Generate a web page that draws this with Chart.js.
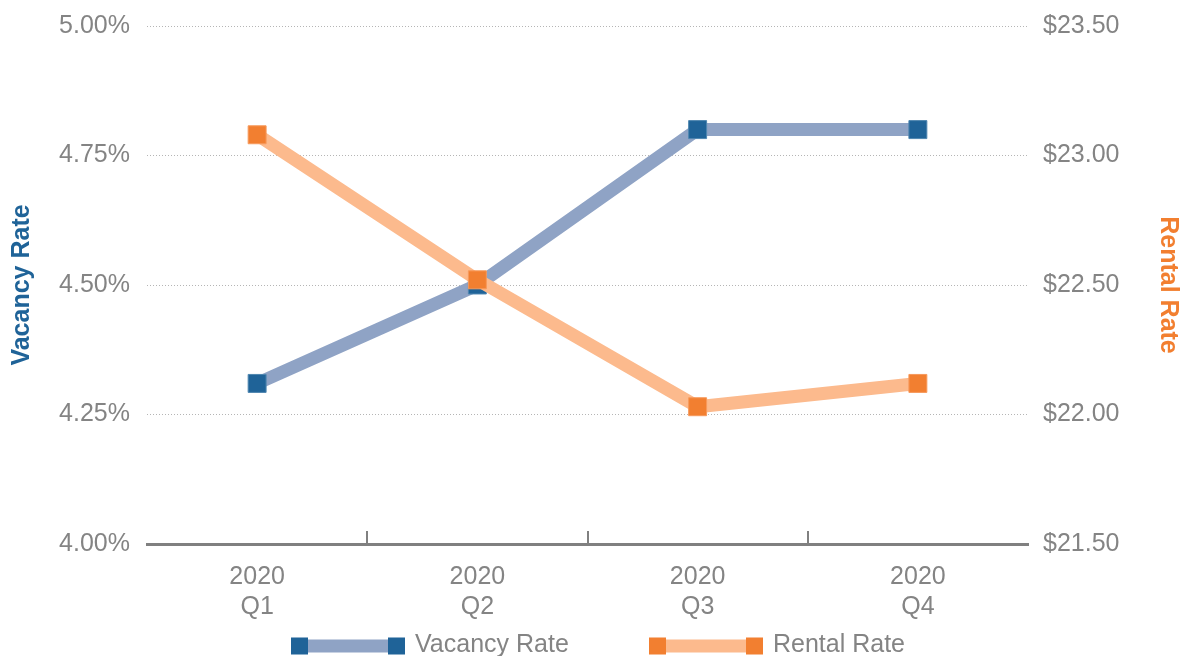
<!DOCTYPE html>
<html>
<head>
<meta charset="utf-8">
<script src="https://cdn.jsdelivr.net/npm/chart.js@4"></script>
<style>
  html, body { margin: 0; padding: 0; background: #fff; }
  #wrap { width: 1185px; height: 656px; }
</style>
</head>
<body>
<div id="wrap"><canvas id="c" width="1185" height="656"></canvas></div>
<script>
// data
const quarters = [['2020', 'Q1'], ['2020', 'Q2'], ['2020', 'Q3'], ['2020', 'Q4']];
const vacancyRate = [4.31, 4.50, 4.80, 4.80];
const rentalRate = [23.08, 22.52, 22.03, 22.12];
const vacancyRange = [4.00, 5.00];
const rentalRange = [21.50, 23.50];

const FONT = '"Liberation Sans", Arial, sans-serif';
const GREY = '#848484';

// inner tick marks between categories, like the original
const innerTicks = {
  id: 'innerTicks',
  afterDraw(chart) {
    const x = chart.scales.x;
    const ctx = chart.ctx;
    ctx.save();
    ctx.strokeStyle = '#808080';
    ctx.lineWidth = 2;
    for (let i = 1; i < quarters.length; i++) {
      const px = Math.round((x.getPixelForValue(i - 1) + x.getPixelForValue(i)) / 2);
      ctx.beginPath();
      ctx.moveTo(px, x.top - 13);
      ctx.lineTo(px, x.top);
      ctx.stroke();
    }
    ctx.restore();
  }
};

// legend with a line and a square at each end
const lineLegend = {
  id: 'lineLegend',
  afterDraw(chart) {
    const ctx = chart.ctx;
    const starts = [291, 649];
    const y = 646;
    ctx.save();
    ctx.font = '25px ' + FONT;
    ctx.textBaseline = 'middle';
    chart.data.datasets.forEach((ds, i) => {
      const x0 = starts[i];
      ctx.fillStyle = ds.borderColor;
      ctx.fillRect(x0 + 8, y - 6.5, 98, 13);
      ctx.fillStyle = ds.pointBackgroundColor;
      ctx.fillRect(x0, y - 8.5, 17, 17);
      ctx.fillRect(x0 + 97, y - 8.5, 17, 17);
      ctx.fillStyle = GREY;
      ctx.fillText(ds.label, x0 + 124, y - 1);
    });
    ctx.restore();
  }
};

// y scales: fixed width and no extra label padding so the plot starts at y=26
function fitY(width) {
  return scale => {
    scale.width = width;
    scale.paddingTop = 0;
    scale.paddingBottom = 0;
  };
}

new Chart(document.getElementById('c'), {
  type: 'line',
  data: {
    labels: quarters,
    datasets: [{
      label: 'Vacancy Rate',
      data: vacancyRate,
      yAxisID: 'y',
      borderColor: '#8fa3c5',
      backgroundColor: '#8fa3c5',
      borderWidth: 13,
      borderCapStyle: 'butt',
      pointStyle: 'rect',
      pointRadius: 12.7,
      pointHoverRadius: 12.7,
      pointBackgroundColor: '#1f6398',
      pointBorderColor: '#4f86b0',
      pointBorderWidth: 1,
      tension: 0,
      order: 1
    }, {
      label: 'Rental Rate',
      data: rentalRate,
      yAxisID: 'y1',
      borderColor: '#fcba8d',
      backgroundColor: '#fcba8d',
      borderWidth: 13,
      borderCapStyle: 'butt',
      pointStyle: 'rect',
      pointRadius: 12.7,
      pointHoverRadius: 12.7,
      pointBackgroundColor: '#f27f30',
      pointBorderColor: '#f79a5c',
      pointBorderWidth: 1,
      tension: 0,
      order: 0
    }]
  },
  options: {
    responsive: false,
    animation: false,
    layout: { padding: { top: 26, left: 0, right: 0, bottom: 0 } },
    plugins: {
      legend: { display: false },
      tooltip: { enabled: false }
    },
    scales: {
      x: {
        offset: true,
        grid: { display: false },
        border: { display: true, color: '#808080', width: 3 },
        ticks: {
          color: GREY,
          padding: 10,
          maxRotation: 0,
          font: { family: FONT, size: 25, lineHeight: 1.2 }
        },
        afterFit(scale) { scale.height = 112; }
      },
      y: {
        position: 'left',
        min: vacancyRange[0],
        max: vacancyRange[1],
        ticks: {
          stepSize: 0.25,
          color: GREY,
          padding: 17,
          font: { family: FONT, size: 25 },
          callback: v => v.toFixed(2) + '%'
        },
        grid: {
          color: '#b5b5b5',
          lineWidth: 1,
          drawTicks: false
        },
        border: { display: false, dash: [1, 2] },
        title: {
          display: true,
          text: 'Vacancy Rate',
          color: '#1f6398',
          padding: { top: 7, bottom: 0 },
          font: { family: FONT, size: 25, weight: 'bold', lineHeight: 1.2 }
        },
        afterFit: fitY(147)
      },
      y1: {
        position: 'right',
        min: rentalRange[0],
        max: rentalRange[1],
        ticks: {
          stepSize: 0.5,
          color: GREY,
          padding: 15,
          font: { family: FONT, size: 25 },
          callback: v => '$' + v.toFixed(2)
        },
        grid: { drawOnChartArea: false, drawTicks: false },
        border: { display: false },
        title: {
          display: true,
          text: 'Rental Rate',
          color: '#f27f30',
          padding: { top: 2, bottom: 0 },
          font: { family: FONT, size: 25, weight: 'bold', lineHeight: 1.2 }
        },
        afterFit: fitY(157)
      }
    }
  },
  plugins: [innerTicks, lineLegend]
});
</script>
</body>
</html>
